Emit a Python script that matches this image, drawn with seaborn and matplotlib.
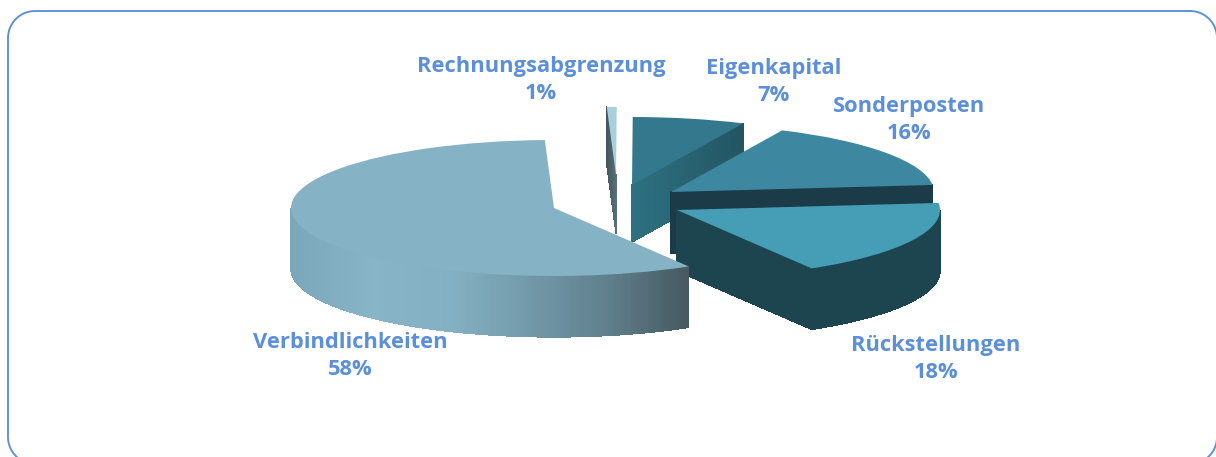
import numpy as np
import matplotlib
matplotlib.use("Agg")
import matplotlib.pyplot as plt
from matplotlib.collections import PolyCollection
from matplotlib.patches import Polygon
import seaborn as sns

# data
categories = ["Rechnungsabgrenzung", "Eigenkapital", "Sonderposten", "Rückstellungen", "Verbindlichkeiten"]
shares = [0.6, 6.9, 16.4, 18.1, 58.0]

# style
W, H = 1216, 457
top_colors = ["#A9CFDC", "#33788C", "#3D88A0", "#459DB6", "#85B2C4"]
wall_ramps = [["#56707A", "#46585F"], ["#2E7181", "#235563"], ["#1A3B47", "#1A3B47"],
              ["#1D4550", "#1D4550"], ["#7AA7B9", "#87B4C6", "#83B0C2", "#7299A9", "#5F7E8B", "#46585F"]]
RX, RY = 263.0, 68.0          # projected pie radii, px
CX, CY = 607.0, 200.0         # pie centre, px
apex_shift = [(9, -25), (25, -15), (64, -8), (70, 10), (-53, 8)]   # exploded slices, px
depths = [58, 57, 61, 61, 61]
visible_cut = ["theta2", "theta1", "theta1", "theta1", None]       # cut face the viewer sees
label_pos = [(541, 80), (774, 82), (909, 120), (936, 359), (350, 356)]
BLUE = "#5B8FD9"
FRAME = (8, 11, 1217, 464, 27)   # left, top, right, bottom, corner radius in px

sns.set_theme(style="white")
plt.rcParams["font.family"] = ["Open Sans", "DejaVu Sans"]

fig = plt.figure(figsize=(W / 100, H / 100), dpi=100, facecolor="white")
ax = fig.add_axes([0, 0, 1, 1])
wedges, _ = ax.pie(shares, startangle=92, counterclock=False, colors=top_colors, radius=1.0)
ax.set_aspect("auto")
ax.set_xlim(-CX / RX, (W - CX) / RX)
ax.set_ylim(-(H - CY) / RY, CY / RY)
ax.patch.set_alpha(0)


def rim(w, t):
    t = np.radians(t)
    return np.column_stack([w.center[0] + w.r * np.cos(t), w.center[1] + w.r * np.sin(t)])


def shaded_strip(line, depth, ramp, frac, z):
    """Extrude a polyline downwards: a smooth base shape with a crisp gradient on top."""
    lower = line - [0, depth]
    ax.add_patch(Polygon(np.vstack([line, lower[::-1]]), closed=True, fc=ramp[128], ec="none", lw=0, zorder=z))
    n = len(line) - 1
    quads = [[line[k], line[k + 1], lower[k + 1], lower[k]] for k in range(n)]
    cols = [ramp[int(255 * frac[k])] for k in range(n)]
    ax.add_collection(PolyCollection(quads, facecolors=cols, edgecolors=cols, linewidths=0.2,
                                     antialiaseds=False, zorder=z))


for i, (w, (dx, dy), d) in enumerate(zip(wedges, apex_shift, depths)):
    w.set_center((dx / RX, -dy / RY))
    w.set_linewidth(0)
    base = 10 + 3 * i
    w.set_zorder(base + 2)
    depth = d / RY
    ramp = sns.blend_palette(wall_ramps[i], 256)

    # straight cut face
    if visible_cut[i]:
        p = rim(w, np.array([getattr(w, visible_cut[i])]))[0]
        s = np.linspace(0, 1, 41)[:, None]
        line = np.asarray(w.center) + s * (p - np.asarray(w.center))
        shaded_strip(line, depth, ramp, np.arange(40) / 39, base)

    # outer wall, shaded from left to right
    t = np.linspace(w.theta1, w.theta2, 300)
    t = t[np.sin(np.radians(t)) <= 0]
    if len(t) > 1:
        r = rim(w, t)
        frac = (r[:, 0] - r[:, 0].min()) / np.ptp(r[:, 0])
        shaded_strip(r, depth, ramp, frac, base + 1)

# frame and labels in pixel coordinates
ov = fig.add_axes([0, 0, 1, 1], zorder=5)
ov.set_xlim(0, W)
ov.set_ylim(H, 0)
ov.axis("off")
ov.patch.set_alpha(0)
L, T, R, B, rad = FRAME
corners = [(R - rad, T + rad, -90), (R - rad, B - rad, 0), (L + rad, B - rad, 90), (L + rad, T + rad, 180)]
fx, fy = [], []
for cx, cy, start in corners:
    a = np.radians(np.linspace(start, start + 90, 30))
    fx.extend(cx + rad * np.cos(a))
    fy.extend(cy + rad * np.sin(a))
ov.plot(fx + fx[:1], fy + fy[:1], color=BLUE, lw=1.35, solid_joinstyle="round")

for name, v, (x, y) in zip(categories, shares, label_pos):
    ov.text(x, y, f"{name}\n{round(v)}%", ha="center", va="center", color=BLUE,
            fontsize=15.75, fontweight="bold", linespacing=1.38)

fig.savefig("out.png", dpi=100)
